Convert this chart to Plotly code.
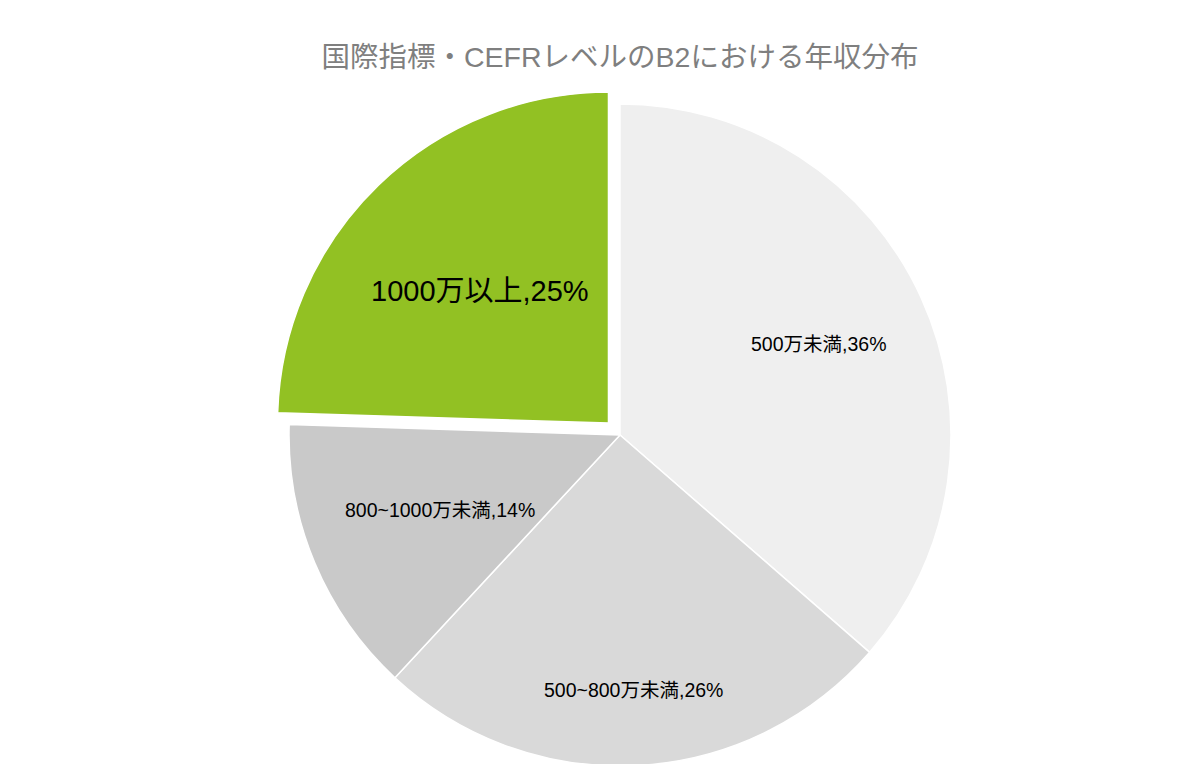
import math
import plotly.graph_objects as go

# 年収分布 (CEFR B2) - shares, labels show the rounded figures
labels = ["500万未満", "500~800万未満", "800~1000万未満", "1000万以上"]
values = [36.4, 25.5, 13.6, 24.5]
pct_text = ["36%", "26%", "14%", "25%"]

# styling
colors = ["#EFEFEF", "#D9D9D9", "#C9C9C9", "#92C123"]
pulls = [0, 0, 0, 0.05]
label_sizes = [19.5, 19.5, 19.5, 29]
label_radius = [0.66, 0.77, 0.59, 0.556]  # how far out each label sits, as a share of the radius

title_text = "国際指標・CEFRレベルのB2における年収分布"
font_family = "Arial, Liberation Sans, Noto Sans CJK JP, sans-serif"

W, H = 1203, 790  # a bit taller than the window so the bottom of the pie is cut like the original
cx, cy, r = 612, 427, 331  # pie centre / radius in px
half = r * (1 + max(pulls))

fig = go.Figure()

fig.add_trace(go.Pie(
    labels=labels,
    values=values,
    textinfo="none",
    marker=dict(colors=colors, line=dict(color="#FFFFFF", width=1.5)),
    pull=pulls,
    sort=False,
    direction="clockwise",
    rotation=0,
    showlegend=False,
    hoverinfo="label+percent",
    domain=dict(x=[(cx - half) / W, (cx + half) / W],
                y=[(H - cy - half) / H, (H - cy + half) / H]),
))

# slice labels, placed on each slice's middle angle
total = sum(values)
cum = 0
for lab, v, p, sz, rho, pl in zip(labels, values, pct_text, label_sizes, label_radius, pulls):
    theta = 2 * math.pi * (cum + v / 2) / total
    cum += v
    ox = cx + pl * r * math.sin(theta)
    oy = cy - pl * r * math.cos(theta)
    px = ox + rho * r * math.sin(theta)
    py = oy - rho * r * math.cos(theta)
    fig.add_annotation(
        text=f"{lab},{p}",
        x=px / W, y=1 - py / H, xref="paper", yref="paper",
        xanchor="center", yanchor="middle", showarrow=False,
        font=dict(family=font_family, size=sz, color="#000000"),
    )

fig.update_layout(
    title=dict(
        text=title_text,
        font=dict(family=font_family, size=28.5, color="#7F7F7F"),
        x=612 / W,
        xanchor="center",
        y=1 - 49 / H,
        yanchor="middle",
    ),
    width=W,
    height=H,
    margin=dict(l=0, r=0, t=0, b=0),
    paper_bgcolor="#FFFFFF",
    plot_bgcolor="#FFFFFF",
)

fig.write_html("out.html")
